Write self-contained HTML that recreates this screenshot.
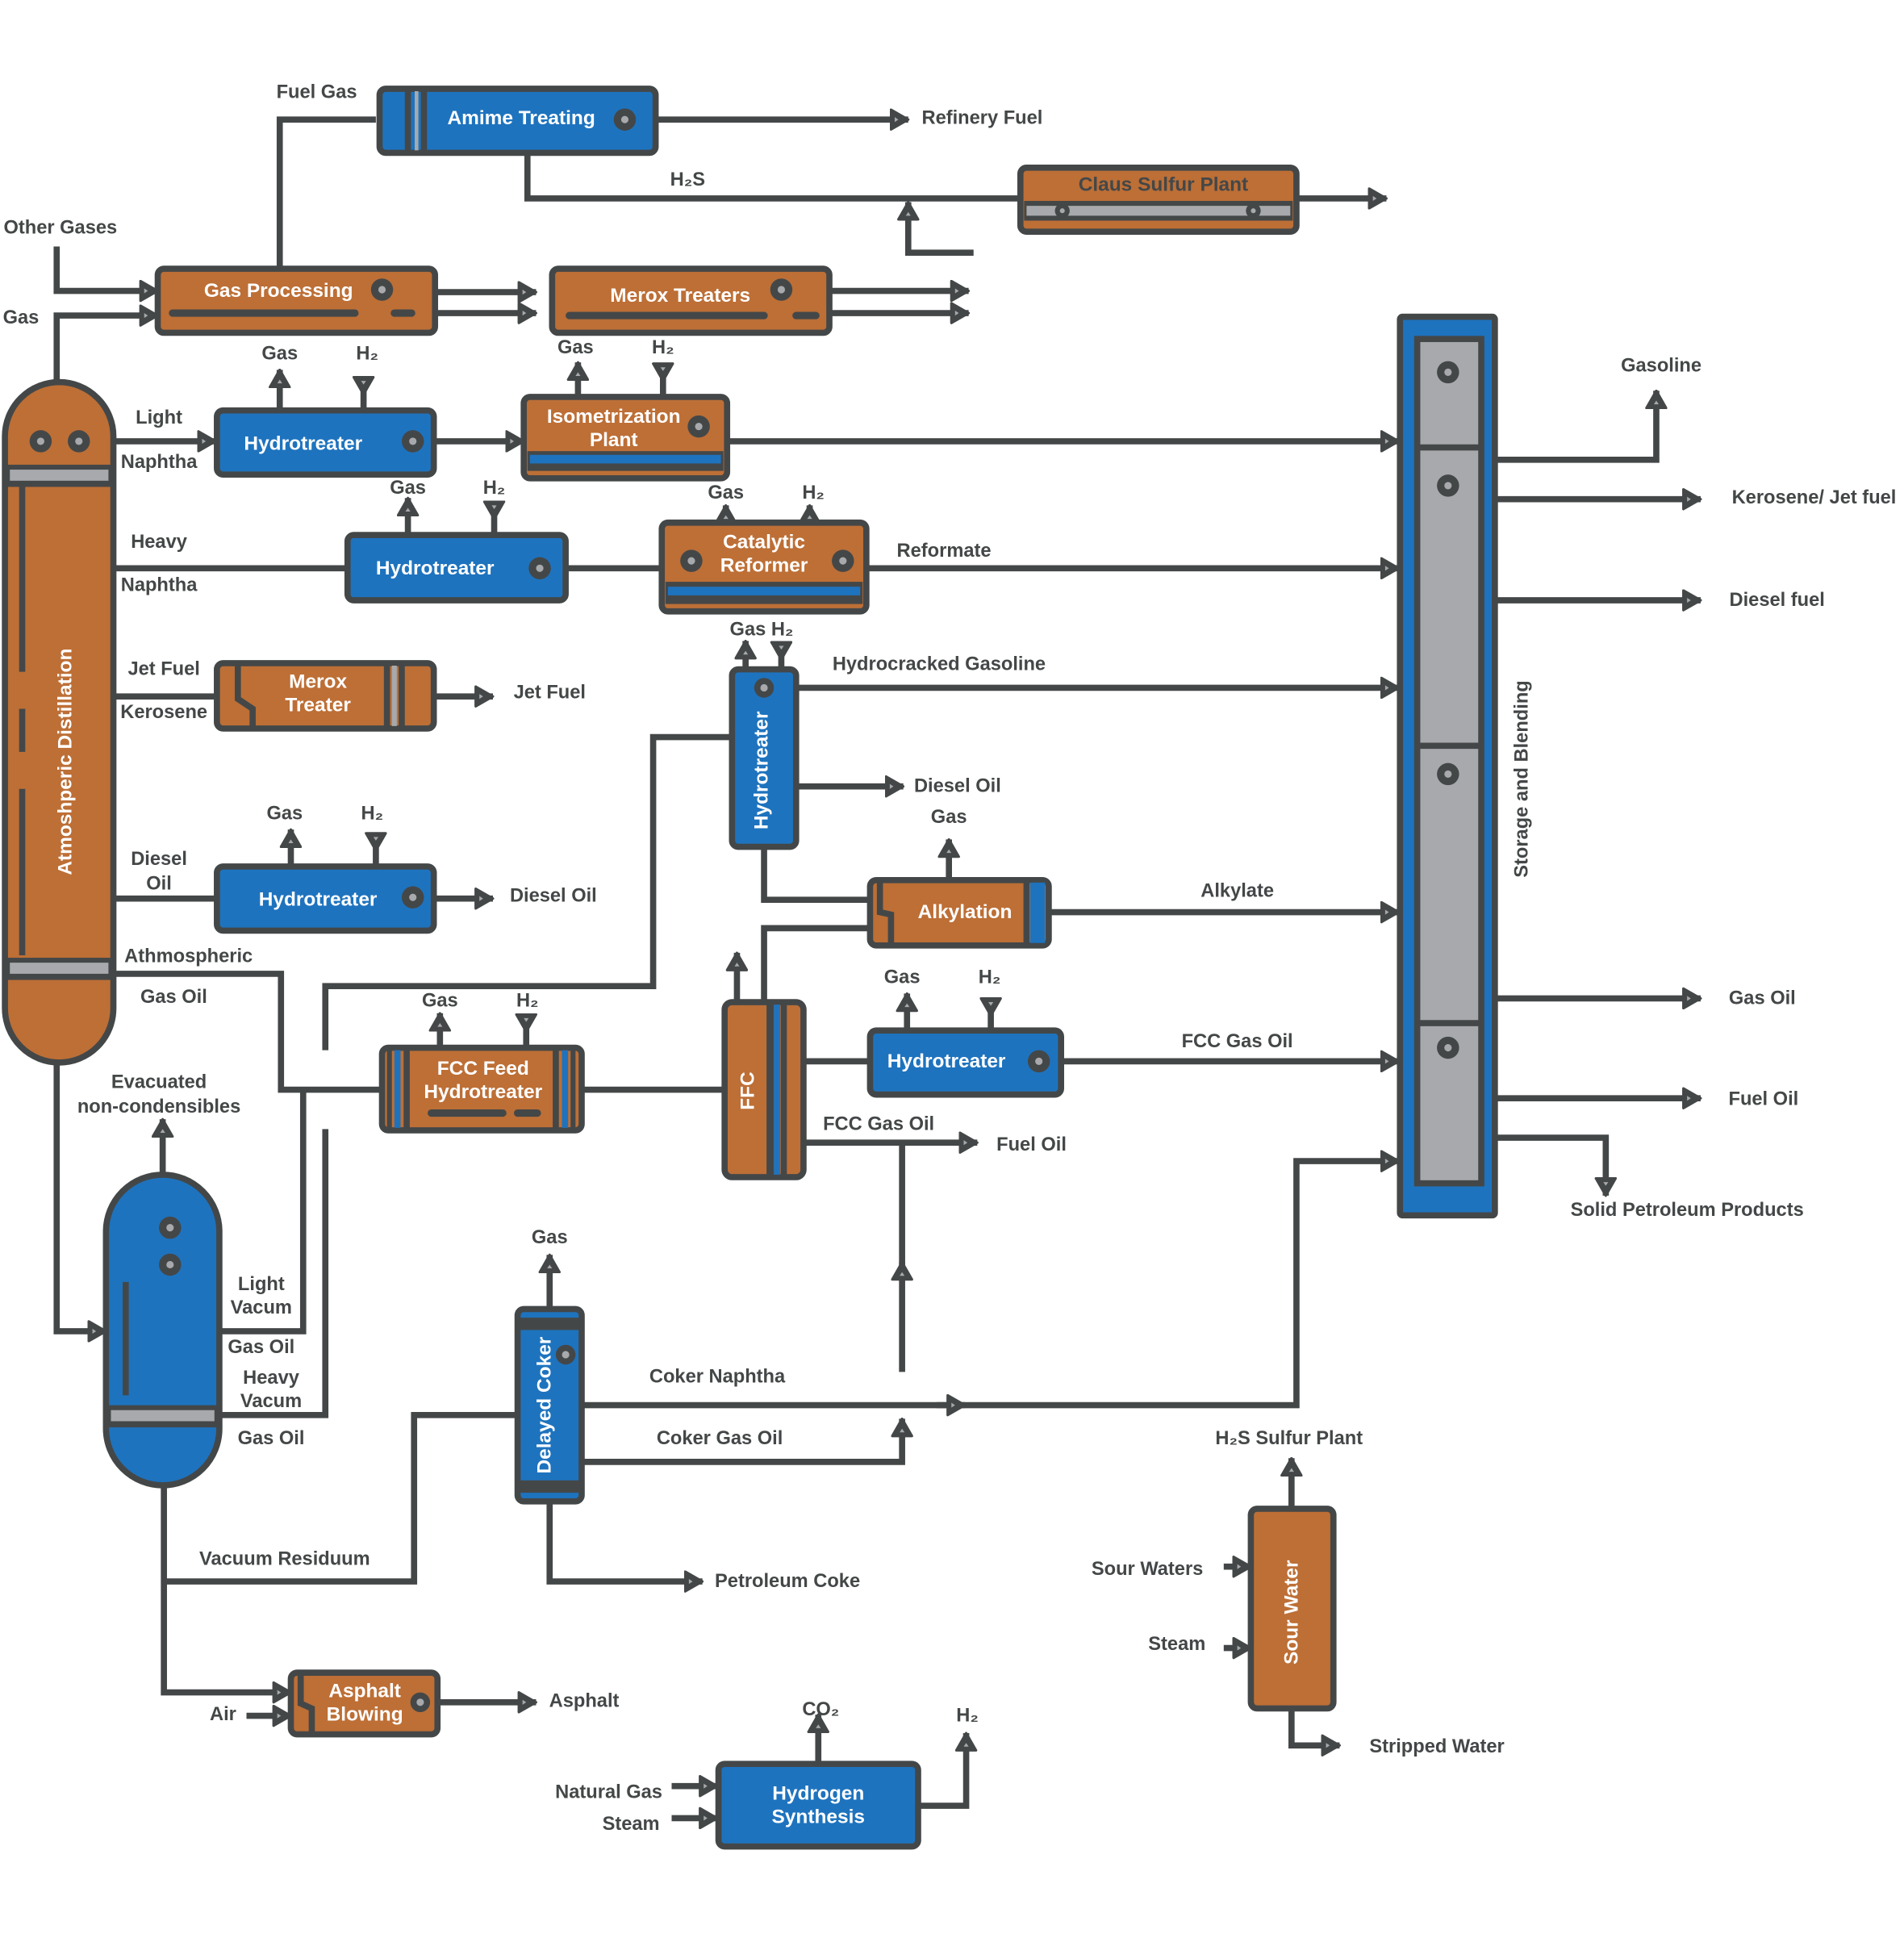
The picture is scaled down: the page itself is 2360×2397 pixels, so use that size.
<!DOCTYPE html>
<html><head><meta charset="utf-8"><style>
html,body{margin:0;padding:0;background:#fff;}
svg{display:block;}
text{font-family:"Liberation Sans",sans-serif;font-weight:bold;font-size:15.5px;fill:#444748;text-anchor:middle;dominant-baseline:central;}
.w{fill:#fff;font-size:16px;}
.l{fill:none;stroke:#444748;stroke-width:5;stroke-linejoin:miter;}
.bx{stroke:#444748;stroke-width:5;}
.o{fill:#BD6F36;}.b{fill:#1E73BE;}.g{fill:#A7A9AC;}
</style></head><body>
<svg width="2360" height="2397" viewBox="0 0 1545 1569" preserveAspectRatio="none" xmlns="http://www.w3.org/2000/svg">
<defs>
<marker id="a" viewBox="0 0 16 18" refX="15" refY="9" markerWidth="16" markerHeight="18" markerUnits="userSpaceOnUse" orient="auto"><path d="M1,1 L15,9 L1,17 z" fill="#444748" stroke="#444748" stroke-width="2" stroke-linejoin="round"/><path d="M4,7 L7,9 L4,11z" fill="#A7A9AC"/></marker>
<marker id="s" viewBox="0 0 16 18" refX="1" refY="9" markerWidth="16" markerHeight="18" markerUnits="userSpaceOnUse" orient="auto"><path d="M1,1 L15,9 L1,17 z" fill="#444748" stroke="#444748" stroke-width="2" stroke-linejoin="round"/><path d="M4,7 L7,9 L4,11z" fill="#A7A9AC"/></marker>
</defs>

<!-- connectors -->
<g class="l">
<path d="M305,97 H227 V218"/>
<path d="M532,97 H737" marker-end="url(#a)"/>
<path d="M428,124 V161 H828"/>
<path d="M790,205 H737 V164" marker-end="url(#a)"/>
<path d="M1052,161 H1125" marker-end="url(#a)"/>
<path d="M46,200 V236 H128" marker-end="url(#a)"/>
<path d="M46,308 V256 H128" marker-end="url(#a)"/>
<path d="M353,237 H435" marker-end="url(#a)"/>
<path d="M353,254 H435" marker-end="url(#a)"/>
<path d="M673,236 H786" marker-end="url(#a)"/>
<path d="M673,254 H786" marker-end="url(#a)"/>
<path d="M92,358 H175" marker-end="url(#a)"/>
<path d="M227,333 V300" marker-end="url(#a)"/>
<path d="M295,306 V333" marker-start="url(#s)"/>
<path d="M352,358 H425" marker-end="url(#a)"/>
<path d="M469,322 V294" marker-end="url(#a)"/>
<path d="M538,295 V322" marker-start="url(#s)"/>
<path d="M590,358 H1135" marker-end="url(#a)"/>
<path d="M92,461 H282"/>
<path d="M331,434 V404" marker-end="url(#a)"/>
<path d="M401,407 V434" marker-start="url(#s)"/>
<path d="M459,461 H537"/>
<path d="M589,424 V410" marker-end="url(#a)"/>
<path d="M657,424 V410" marker-end="url(#a)"/>
<path d="M703,461 H1135" marker-end="url(#a)"/>
<path d="M92,565 H176"/>
<path d="M352,565 H400" marker-end="url(#a)"/>
<path d="M92,729 H176"/>
<path d="M236,703 V673" marker-end="url(#a)"/>
<path d="M305,676 V703" marker-start="url(#s)"/>
<path d="M352,729 H400" marker-end="url(#a)"/>
<path d="M92,790 H228 V884 H310"/>
<path d="M357,850 V822" marker-end="url(#a)"/>
<path d="M427,823 V850" marker-start="url(#s)"/>
<path d="M472,884 H588"/>
<path d="M598,813 V773" marker-end="url(#a)"/>
<path d="M620,813 V753 H706"/>
<path d="M652,861 H706"/>
<path d="M736,836 V806" marker-end="url(#a)"/>
<path d="M804,810 V836" marker-start="url(#s)"/>
<path d="M861,861 H1135" marker-end="url(#a)"/>
<path d="M652,927 H793" marker-end="url(#a)"/>
<path d="M732,927 V1030"/>
<path d="M732,1113 V1024" marker-end="url(#a)"/>
<path d="M605,543 V520" marker-end="url(#a)"/>
<path d="M634,521 V543" marker-start="url(#s)"/>
<path d="M646,558 H1135" marker-end="url(#a)"/>
<path d="M646,638 H733" marker-end="url(#a)"/>
<path d="M594,598 H530 V800 H264 V852"/>
<path d="M620,687 V730 H706"/>
<path d="M770,714 V681" marker-end="url(#a)"/>
<path d="M851,740 H1135" marker-end="url(#a)"/>
<path d="M1213,373 H1344 V317" marker-end="url(#a)"/>
<path d="M1213,405 H1380" marker-end="url(#a)"/>
<path d="M1213,487 H1380" marker-end="url(#a)"/>
<path d="M1213,810 H1380" marker-end="url(#a)"/>
<path d="M1213,891 H1380" marker-end="url(#a)"/>
<path d="M1213,923 H1303 V970" marker-end="url(#a)"/>
<path d="M472,1140 H1052 V942 H1135" marker-end="url(#a)"/>
<path d="M760,1140 H783" marker-end="url(#a)"/>
<path d="M132,952 V908" marker-end="url(#a)"/>
<path d="M46,862 V1080 H86" marker-end="url(#a)"/>
<path d="M178,1080 H246 V884"/>
<path d="M178,1148 H264 V916"/>
<path d="M133,1205 V1373 H236" marker-end="url(#a)"/>
<path d="M133,1283 H336 V1148 H420"/>
<path d="M200,1392 H236" marker-end="url(#a)"/>
<path d="M355,1381 H435" marker-end="url(#a)"/>
<path d="M446,1062 V1018" marker-end="url(#a)"/>
<path d="M446,1218 V1283 H570" marker-end="url(#a)"/>
<path d="M472,1186 H732 V1151" marker-end="url(#a)"/>
<path d="M1048,1224 V1183" marker-end="url(#a)"/>
<path d="M993,1271 H1015" marker-end="url(#a)"/>
<path d="M993,1337 H1015" marker-end="url(#a)"/>
<path d="M1048,1386 V1416 H1087" marker-end="url(#a)"/>
<path d="M664,1431 V1391" marker-end="url(#a)"/>
<path d="M745,1465 H784 V1406" marker-end="url(#a)"/>
<path d="M545,1449 H582" marker-end="url(#a)"/>
<path d="M545,1475 H582" marker-end="url(#a)"/>
</g>

<!-- Amime -->
<rect class="bx b" x="308" y="72" width="224" height="52" rx="5"/>
<line x1="331" y1="74" x2="331" y2="122" stroke="#444748" stroke-width="5"/>
<line x1="338" y1="74" x2="338" y2="122" stroke="#A7A9AC" stroke-width="3"/>
<line x1="344" y1="74" x2="344" y2="122" stroke="#444748" stroke-width="5"/>
<text class="w" x="423" y="96">Amime Treating</text>
<circle cx="507" cy="97" r="9" fill="#444748"/><circle cx="507" cy="97" r="3" fill="#A7A9AC"/>

<!-- Claus -->
<rect class="bx o" x="828" y="136" width="224" height="52" rx="5"/>
<rect x="831" y="163" width="218" height="16" fill="#444748"/>
<rect x="833" y="167" width="214" height="8" fill="#A7A9AC"/>
<circle cx="862" cy="171" r="6" fill="#444748"/><circle cx="862" cy="171" r="2" fill="#A7A9AC"/>
<circle cx="1017" cy="171" r="6" fill="#444748"/><circle cx="1017" cy="171" r="2" fill="#A7A9AC"/>
<text class="w" x="944" y="150" style="fill:#444748">Claus Sulfur Plant</text>

<!-- Gas Processing -->
<rect class="bx o" x="128" y="218" width="225" height="52" rx="5"/>
<text class="w" x="226" y="236">Gas Processing</text>
<circle cx="310" cy="235" r="9" fill="#444748"/><circle cx="310" cy="235" r="3" fill="#A7A9AC"/>
<line x1="140" y1="254" x2="288" y2="254" stroke="#444748" stroke-width="6" stroke-linecap="round"/>
<line x1="320" y1="254" x2="334" y2="254" stroke="#444748" stroke-width="6" stroke-linecap="round"/>

<!-- Merox Treaters -->
<rect class="bx o" x="448" y="218" width="225" height="52" rx="5"/>
<text class="w" x="552" y="240">Merox Treaters</text>
<circle cx="634" cy="235" r="9" fill="#444748"/><circle cx="634" cy="235" r="3" fill="#A7A9AC"/>
<line x1="462" y1="256" x2="620" y2="256" stroke="#444748" stroke-width="6" stroke-linecap="round"/>
<line x1="646" y1="256" x2="662" y2="256" stroke="#444748" stroke-width="6" stroke-linecap="round"/>

<!-- Atmospheric column -->
<rect class="bx o" x="4" y="310" width="88" height="552" rx="44"/>
<rect x="6" y="377" width="84" height="18" fill="#444748"/>
<rect x="8" y="381" width="80" height="9" fill="#A7A9AC"/>
<rect x="6" y="777" width="84" height="18" fill="#444748"/>
<rect x="8" y="781" width="80" height="9" fill="#A7A9AC"/>
<line x1="18" y1="395" x2="18" y2="610" stroke="#444748" stroke-width="5" stroke-dasharray="150,30"/>
<line x1="18" y1="640" x2="18" y2="775" stroke="#444748" stroke-width="5"/>
<circle cx="33" cy="358" r="9" fill="#444748"/><circle cx="33" cy="358" r="3" fill="#A7A9AC"/>
<circle cx="64" cy="358" r="9" fill="#444748"/><circle cx="64" cy="358" r="3" fill="#A7A9AC"/>
<text class="w" transform="translate(53,618) rotate(-90)">Atmoshperic Distillation</text>

<!-- Hydrotreater 1 -->
<rect class="bx b" x="176" y="333" width="176" height="52" rx="5"/>
<text class="w" x="246" y="360">Hydrotreater</text>
<circle cx="335" cy="358" r="9" fill="#444748"/><circle cx="335" cy="358" r="3" fill="#A7A9AC"/>

<!-- Isometrization -->
<rect class="bx o" x="425" y="322" width="165" height="66" rx="5"/>
<rect x="428" y="366" width="159" height="16" fill="#444748"/>
<rect x="430" y="369" width="155" height="7" fill="#1E73BE"/>
<text class="w" x="498" y="338">Isometrization</text>
<text class="w" x="498" y="357">Plant</text>
<circle cx="567" cy="346" r="9" fill="#444748"/><circle cx="567" cy="346" r="3" fill="#A7A9AC"/>

<!-- Hydrotreater 2 -->
<rect class="bx b" x="282" y="434" width="177" height="53" rx="5"/>
<text class="w" x="353" y="461">Hydrotreater</text>
<circle cx="438" cy="461" r="9" fill="#444748"/><circle cx="438" cy="461" r="3" fill="#A7A9AC"/>

<!-- Catalytic Reformer -->
<rect class="bx o" x="537" y="424" width="166" height="72" rx="5"/>
<rect x="540" y="472" width="160" height="18" fill="#444748"/>
<rect x="542" y="476" width="156" height="7" fill="#1E73BE"/>
<text class="w" x="620" y="440">Catalytic</text>
<text class="w" x="620" y="459">Reformer</text>
<circle cx="561" cy="455" r="9" fill="#444748"/><circle cx="561" cy="455" r="3" fill="#A7A9AC"/>
<circle cx="684" cy="455" r="9" fill="#444748"/><circle cx="684" cy="455" r="3" fill="#A7A9AC"/>

<!-- Merox Treater -->
<rect class="bx o" x="176" y="538" width="176" height="53" rx="5"/>
<path d="M193,540 V567 L205,575 V589" stroke="#444748" stroke-width="5" fill="none"/>
<line x1="314" y1="540" x2="314" y2="589" stroke="#444748" stroke-width="5"/>
<line x1="320" y1="540" x2="320" y2="589" stroke="#A7A9AC" stroke-width="4"/>
<line x1="326" y1="540" x2="326" y2="589" stroke="#444748" stroke-width="5"/>
<text class="w" x="258" y="553">Merox</text>
<text class="w" x="258" y="572">Treater</text>

<!-- Hydrotreater 3 -->
<rect class="bx b" x="176" y="703" width="176" height="52" rx="5"/>
<text class="w" x="258" y="730">Hydrotreater</text>
<circle cx="335" cy="728" r="9" fill="#444748"/><circle cx="335" cy="728" r="3" fill="#A7A9AC"/>

<!-- FCC Feed Hydrotreater -->
<rect class="bx o" x="310" y="850" width="162" height="67" rx="5"/>
<rect x="320" y="852" width="5" height="63" fill="#1E73BE"/>
<line x1="330" y1="852" x2="330" y2="915" stroke="#444748" stroke-width="5"/>
<rect x="456" y="852" width="5" height="63" fill="#1E73BE"/>
<line x1="451" y1="852" x2="451" y2="915" stroke="#444748" stroke-width="5"/>
<line x1="316" y1="852" x2="316" y2="915" stroke="#444748" stroke-width="4"/>
<line x1="465" y1="852" x2="465" y2="915" stroke="#444748" stroke-width="4"/>
<text class="w" x="392" y="867">FCC Feed</text>
<text class="w" x="392" y="886">Hydrotreater</text>
<line x1="350" y1="903" x2="408" y2="903" stroke="#444748" stroke-width="6" stroke-linecap="round"/>
<line x1="420" y1="903" x2="436" y2="903" stroke="#444748" stroke-width="6" stroke-linecap="round"/>

<!-- FFC -->
<rect class="bx o" x="588" y="813" width="64" height="142" rx="6"/>
<line x1="625" y1="815" x2="625" y2="953" stroke="#444748" stroke-width="6"/>
<rect x="628" y="815" width="5" height="138" fill="#1E73BE"/>
<line x1="636" y1="815" x2="636" y2="953" stroke="#444748" stroke-width="5"/>
<text class="w" transform="translate(607,885) rotate(-90)">FFC</text>

<!-- Hydrotreater 4 -->
<rect class="bx b" x="706" y="836" width="155" height="52" rx="5"/>
<text class="w" x="768" y="861">Hydrotreater</text>
<circle cx="843" cy="861" r="9" fill="#444748"/><circle cx="843" cy="861" r="3" fill="#A7A9AC"/>

<!-- Hydrocracker vertical -->
<rect class="bx b" x="594" y="543" width="52" height="144" rx="5"/>
<text class="w" transform="translate(618,625) rotate(-90)">Hydrotreater</text>
<circle cx="620" cy="558" r="8" fill="#444748"/><circle cx="620" cy="558" r="3" fill="#A7A9AC"/>

<!-- Alkylation -->
<rect class="bx o" x="706" y="714" width="145" height="53" rx="5"/>
<path d="M714,716 V740 L723,742 V765" stroke="#444748" stroke-width="5" fill="none"/>
<rect x="836" y="716" width="12" height="49" fill="#1E73BE"/>
<line x1="833" y1="716" x2="833" y2="765" stroke="#444748" stroke-width="5"/>
<text class="w" x="783" y="740">Alkylation</text>

<!-- Storage and Blending -->
<rect class="bx b" x="1136" y="257" width="77" height="729" rx="2"/>
<rect x="1150" y="275" width="52" height="685" fill="#A7A9AC" stroke="#444748" stroke-width="5"/>
<line x1="1150" y1="363" x2="1202" y2="363" stroke="#444748" stroke-width="5"/>
<line x1="1150" y1="605" x2="1202" y2="605" stroke="#444748" stroke-width="5"/>
<line x1="1150" y1="830" x2="1202" y2="830" stroke="#444748" stroke-width="5"/>
<circle cx="1175" cy="302" r="9" fill="#444748"/><circle cx="1175" cy="302" r="3" fill="#A7A9AC"/>
<circle cx="1175" cy="394" r="9" fill="#444748"/><circle cx="1175" cy="394" r="3" fill="#A7A9AC"/>
<circle cx="1175" cy="628" r="9" fill="#444748"/><circle cx="1175" cy="628" r="3" fill="#A7A9AC"/>
<circle cx="1175" cy="850" r="9" fill="#444748"/><circle cx="1175" cy="850" r="3" fill="#A7A9AC"/>
<text transform="translate(1235,632) rotate(-90)">Storage and Blending</text>

<!-- Vacuum column -->
<rect class="bx b" x="86" y="953" width="92" height="252" rx="46"/>
<rect x="88" y="1140" width="88" height="18" fill="#444748"/>
<rect x="90" y="1144" width="84" height="9" fill="#A7A9AC"/>
<line x1="102" y1="1040" x2="102" y2="1132" stroke="#444748" stroke-width="5"/>
<circle cx="138" cy="996" r="9" fill="#444748"/><circle cx="138" cy="996" r="3" fill="#A7A9AC"/>
<circle cx="138" cy="1026" r="9" fill="#444748"/><circle cx="138" cy="1026" r="3" fill="#A7A9AC"/>

<!-- Delayed Coker -->
<rect class="bx b" x="420" y="1062" width="52" height="156" rx="5"/>
<rect x="422" y="1069" width="48" height="10" fill="#444748"/>
<rect x="422" y="1201" width="48" height="10" fill="#444748"/>
<text class="w" transform="translate(442,1140) rotate(-90)">Delayed Coker</text>
<circle cx="459" cy="1099" r="8" fill="#444748"/><circle cx="459" cy="1099" r="3" fill="#A7A9AC"/>

<!-- Asphalt Blowing -->
<rect class="bx o" x="236" y="1357" width="119" height="50" rx="5"/>
<path d="M244,1359 V1382 L253,1386 V1405" stroke="#444748" stroke-width="5" fill="none"/>
<text class="w" x="296" y="1372">Asphalt</text>
<text class="w" x="296" y="1391">Blowing</text>
<circle cx="341" cy="1381" r="8" fill="#444748"/><circle cx="341" cy="1381" r="3" fill="#A7A9AC"/>

<!-- Sour Water -->
<rect class="bx o" x="1015" y="1224" width="67" height="162" rx="5"/>
<text class="w" transform="translate(1048,1308) rotate(-90)">Sour Water</text>

<!-- Hydrogen Synthesis -->
<rect class="bx b" x="583" y="1431" width="162" height="67" rx="5"/>
<text class="w" x="664" y="1455">Hydrogen</text>
<text class="w" x="664" y="1474">Synthesis</text>

<!-- labels -->
<text x="257" y="75">Fuel Gas</text>
<text x="797" y="96">Refinery Fuel</text>
<text x="558" y="146">H₂S</text>
<text x="49" y="185">Other Gases</text>
<text x="17" y="258">Gas</text>
<text x="227" y="287">Gas</text>
<text x="298" y="287">H₂</text>
<text x="467" y="282">Gas</text>
<text x="538" y="282">H₂</text>
<text x="129" y="339">Light</text>
<text x="129" y="375">Naphtha</text>
<text x="331" y="396">Gas</text>
<text x="401" y="396">H₂</text>
<text x="589" y="400">Gas</text>
<text x="660" y="400">H₂</text>
<text x="129" y="440">Heavy</text>
<text x="129" y="475">Naphtha</text>
<text x="766" y="447">Reformate</text>
<text x="618" y="511">Gas H₂</text>
<text x="762" y="539">Hydrocracked Gasoline</text>
<text x="133" y="543">Jet Fuel</text>
<text x="133" y="578">Kerosene</text>
<text x="446" y="562">Jet Fuel</text>
<text x="777" y="638">Diesel Oil</text>
<text x="770" y="663">Gas</text>
<text x="231" y="660">Gas</text>
<text x="302" y="660">H₂</text>
<text x="129" y="697">Diesel</text>
<text x="129" y="717">Oil</text>
<text x="449" y="727">Diesel Oil</text>
<text x="1004" y="723">Alkylate</text>
<text x="153" y="776">Athmospheric</text>
<text x="141" y="809">Gas Oil</text>
<text x="357" y="812">Gas</text>
<text x="428" y="812">H₂</text>
<text x="732" y="793">Gas</text>
<text x="803" y="793">H₂</text>
<text x="1004" y="845">FCC Gas Oil</text>
<text x="713" y="912">FCC Gas Oil</text>
<text x="837" y="929">Fuel Oil</text>
<text x="1348" y="297">Gasoline</text>
<text x="1472" y="404">Kerosene/ Jet fuel</text>
<text x="1442" y="487">Diesel fuel</text>
<text x="1430" y="810">Gas Oil</text>
<text x="1431" y="892">Fuel Oil</text>
<text x="1369" y="982">Solid Petroleum Products</text>
<text x="129" y="878">Evacuated</text>
<text x="129" y="898">non-condensibles</text>
<text x="212" y="1042">Light</text>
<text x="212" y="1061">Vacum</text>
<text x="212" y="1093">Gas Oil</text>
<text x="220" y="1118">Heavy</text>
<text x="220" y="1137">Vacum</text>
<text x="220" y="1167">Gas Oil</text>
<text x="446" y="1004">Gas</text>
<text x="582" y="1117">Coker Naphtha</text>
<text x="584" y="1167">Coker Gas Oil</text>
<text x="231" y="1265">Vacuum Residuum</text>
<text x="639" y="1283">Petroleum Coke</text>
<text x="181" y="1391">Air</text>
<text x="474" y="1380">Asphalt</text>
<text x="1046" y="1167">H₂S Sulfur Plant</text>
<text x="931" y="1273">Sour Waters</text>
<text x="955" y="1334">Steam</text>
<text x="1166" y="1417">Stripped Water</text>
<text x="666" y="1387">CO₂</text>
<text x="785" y="1392">H₂</text>
<text x="494" y="1454">Natural Gas</text>
<text x="512" y="1480">Steam</text>
</svg>
</body></html>
